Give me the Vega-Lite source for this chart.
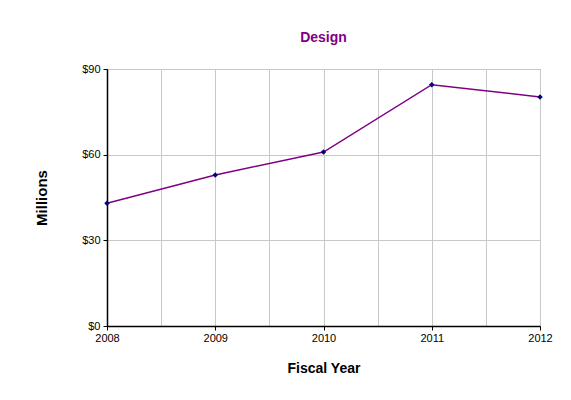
{
  "$schema": "https://vega.github.io/schema/vega-lite/v6.json",
  "autosize": "none",
  "width": 433,
  "height": 257,
  "padding": {"left": 107, "top": 69, "right": 31, "bottom": 74},
  "background": "white",
  "title": {
    "text": "Design",
    "color": "#800080",
    "font": "Liberation Sans",
    "fontSize": 14,
    "fontWeight": "bold",
    "anchor": "middle",
    "offset": 18
  },
  "config": {
    "view": {"stroke": "#808080", "strokeWidth": 1},
    "font": "Liberation Sans"
  },
  "data": {
    "values": [
      {"year": 2008, "value": 43.0},
      {"year": 2009, "value": 52.9},
      {"year": 2010, "value": 60.9},
      {"year": 2011, "value": 84.5},
      {"year": 2012, "value": 80.2}
    ]
  },
  "encoding": {
    "x": {
      "field": "year",
      "type": "quantitative",
      "scale": {"domain": [2008, 2012], "nice": false, "zero": false},
      "axis": {
        "title": "Fiscal Year",
        "titleFont": "Liberation Sans",
        "titleFontSize": 14,
        "titleFontWeight": "bold",
        "titleColor": "black",
        "titlePadding": 18,
        "values": [2008, 2008.5, 2009, 2009.5, 2010, 2010.5, 2011, 2011.5, 2012],
        "labelExpr": "datum.value % 1 == 0 ? datum.value : ''",
        "labelFontSize": 11,
        "labelColor": "black",
        "labelPadding": 2,
        "labelFlush": false,
        "tickColor": {"condition": {"test": "datum.value % 1 != 0", "value": "transparent"}, "value": "black"},
        "tickSize": 4,
        "domainColor": "black",
        "domainWidth": 1.5,
        "gridColor": "#c8c8c8",
        "gridWidth": 1
      }
    },
    "y": {
      "field": "value",
      "type": "quantitative",
      "scale": {"domain": [0, 90], "nice": false},
      "axis": {
        "title": "Millions",
        "titleFont": "Liberation Sans",
        "titleFontSize": 15,
        "titleFontWeight": "bold",
        "titleColor": "black",
        "titlePadding": 32,
        "values": [0, 30, 60, 90],
        "labelExpr": "'$' + datum.value",
        "labelFontSize": 11,
        "labelColor": "black",
        "labelPadding": 3,
        "tickColor": "black",
        "tickSize": 4,
        "domainColor": "black",
        "domainWidth": 1.5,
        "gridColor": "#c8c8c8",
        "gridWidth": 1
      }
    }
  },
  "layer": [
    {"mark": {"type": "line", "color": "#800080", "strokeWidth": 1.5}},
    {"mark": {"type": "point", "shape": "diamond", "filled": true, "color": "#000080", "size": 30, "opacity": 1}}
  ]
}
